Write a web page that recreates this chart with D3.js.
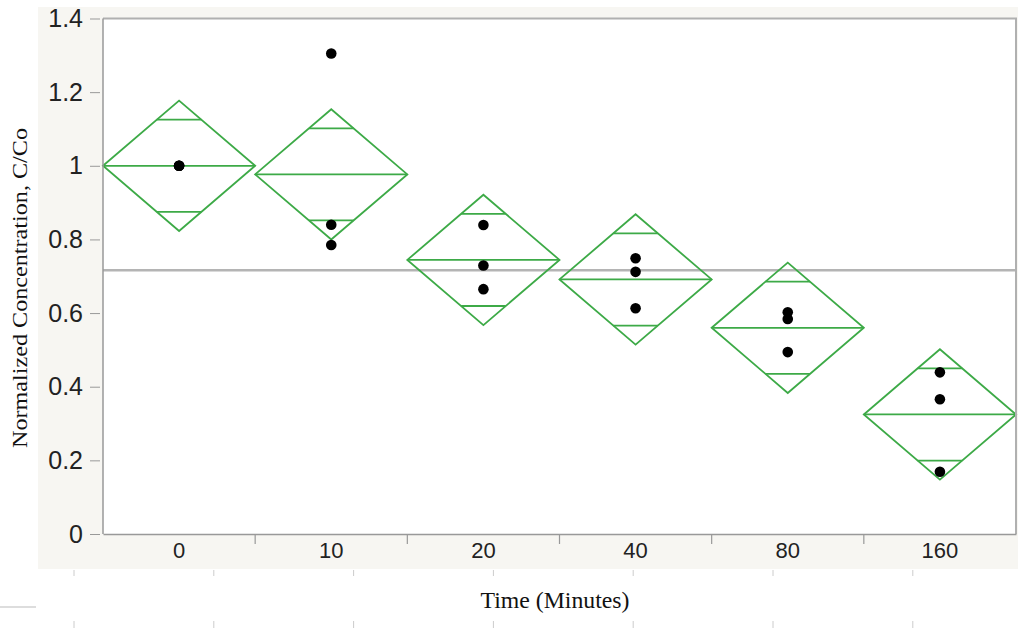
<!DOCTYPE html>
<html><head><meta charset="utf-8">
<script src="https://cdn.jsdelivr.net/npm/d3@7"></script>
<style>html,body{margin:0;padding:0;background:#fff;}svg{display:block;}</style>
</head><body>
<svg id="chart" width="1018" height="628"></svg>
<script>
const categories = ["0", "10", "20", "40", "80", "160"];
const obs0 = [1.0, 1.0, 1.0];
const obs10 = [1.305, 0.840, 0.785];
const obs20 = [0.839, 0.729, 0.665];
const obs40 = [0.749, 0.712, 0.613];
const obs80 = [0.602, 0.584, 0.494];
const obs160 = [0.439, 0.366, 0.169];
const ciHalfWidth = [0.177, 0.177, 0.177, 0.177, 0.177, 0.177];
const yTicks = [0, 0.2, 0.4, 0.6, 0.8, 1, 1.2, 1.4];

const groups = [obs0, obs10, obs20, obs40, obs80, obs160];
const allObs = groups.flat();
const grandMean = d3.mean(allObs);

const svg = d3.select("#chart");
const L = 103, R = 1016, T = 18.5, B = 534;
const x = d3.scaleBand().domain(categories).range([L, R]).padding(0);
const y = d3.scaleLinear().domain([0, 1.4]).range([B, T]);
const green = "#3daa47";

// backgrounds
svg.append("rect").attr("x", 38).attr("y", 7).attr("width", 980).attr("height", 562).attr("fill", "#f7f6f2");
svg.append("rect").attr("x", L).attr("y", T).attr("width", R - L).attr("height", B - T).attr("fill", "#fff");

// grand mean
svg.append("line").attr("x1", L).attr("x2", R).attr("y1", y(grandMean)).attr("y2", y(grandMean))
  .attr("stroke", "#b4b4b4").attr("stroke-width", 2.5);

// diamonds
const bw = x.bandwidth();
const k = 1 / Math.SQRT2;
groups.forEach((g, i) => {
  const c = categories[i];
  const m = d3.mean(g);
  const ci = ciHalfWidth[i];
  const x0 = x(c), x1 = x(c) + bw, xc = x(c) + bw / 2;
  const gg = svg.append("g").attr("fill", "none").attr("stroke", green).attr("stroke-width", 1.8);
  gg.append("path").attr("d", `M${x0},${y(m)}L${xc},${y(m + ci)}L${x1},${y(m)}L${xc},${y(m - ci)}Z`);
  gg.append("line").attr("x1", x0).attr("x2", x1).attr("y1", y(m)).attr("y2", y(m));
  const hw = bw / 2 * (1 - k);
  [m + ci * k, m - ci * k].forEach(v => {
    gg.append("line").attr("x1", xc - hw).attr("x2", xc + hw).attr("y1", y(v)).attr("y2", y(v));
  });
  svg.append("g").selectAll("circle").data(g).join("circle")
    .attr("cx", xc).attr("cy", d => y(d)).attr("r", 5.3).attr("fill", "#000");
});

// frame
svg.append("path").attr("d", `M${L},${T}H${R}V${B}`).attr("fill", "none").attr("stroke", "#b0b0b0").attr("stroke-width", 2);

// y axis
const yAxis = svg.append("g").attr("transform", `translate(${L},0)`)
  .call(d3.axisLeft(y).tickValues(yTicks).tickFormat(d3.format("~g")).tickSize(13).tickPadding(7));
yAxis.select(".domain").attr("stroke", "#999").attr("stroke-width", 1.5).attr("d", `M0,${T}V${B}`);
yAxis.selectAll(".tick line").attr("stroke", "#999").attr("x2", -13).attr("x1", -3);
yAxis.selectAll("text").attr("font-family", "Liberation Sans, Arial, sans-serif").attr("font-size", 25).attr("fill", "#222");

// x axis
const xAxis = svg.append("g").attr("transform", `translate(0,${B})`)
  .call(d3.axisBottom(x).tickSize(0).tickPadding(8));
xAxis.select(".domain").attr("stroke", "#999").attr("stroke-width", 1.5);
xAxis.selectAll("text").attr("font-family", "Liberation Sans, Arial, sans-serif").attr("font-size", 22).attr("fill", "#222");
svg.append("g").selectAll("line").data(categories.slice(1)).join("line")
  .attr("x1", d => x(d)).attr("x2", d => x(d)).attr("y1", B).attr("y2", B + 10)
  .attr("stroke", "#999").attr("stroke-width", 1.2);

// lower decoration ticks
const lowTicks = d3.range(7).map(i => 74 + i * 139.8);
svg.append("g").selectAll("line").data(lowTicks).join("line")
  .attr("x1", d => d).attr("x2", d => d).attr("y1", 570).attr("y2", 576).attr("stroke", "#ccc");
svg.append("g").selectAll("line").data(lowTicks).join("line")
  .attr("x1", d => d).attr("x2", d => d).attr("y1", 621).attr("y2", 628).attr("stroke", "#ccc");
svg.append("line").attr("x1", 0).attr("x2", 36).attr("y1", 607).attr("y2", 607).attr("stroke", "#bbb");

// axis titles
svg.append("text").attr("x", 555).attr("y", 608).attr("text-anchor", "middle")
  .attr("font-family", "Liberation Serif, Times New Roman, serif").attr("font-size", 23).attr("fill", "#111")
  .attr("textLength", 149).attr("lengthAdjust", "spacingAndGlyphs")
  .text("Time (Minutes)");
svg.append("text").attr("transform", "translate(27,288) rotate(-90)").attr("text-anchor", "middle")
  .attr("font-family", "Liberation Serif, Times New Roman, serif").attr("font-size", 22).attr("fill", "#111")
  .attr("textLength", 320).attr("lengthAdjust", "spacingAndGlyphs")
  .text("Normalized Concentration, C/Co");
</script>
</body></html>
